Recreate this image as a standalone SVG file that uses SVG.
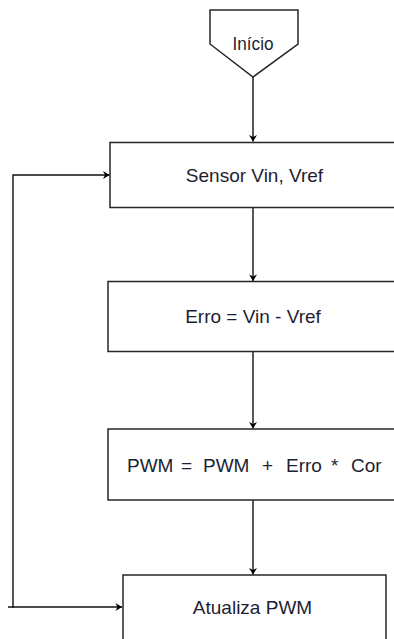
<svg xmlns="http://www.w3.org/2000/svg" width="394" height="639" viewBox="0 0 394 639">
  <style>
    .box { fill: #ffffff; stroke: #262626; stroke-width: 1.5; }
    .lbl { font-family: "Liberation Sans", Arial, sans-serif; font-size: 19px; fill: #1e1e32; text-anchor: middle; }
    .wire { fill: none; stroke: #111111; stroke-width: 1.4; }
  </style>
  <defs>
    <marker id="arrow" markerUnits="userSpaceOnUse" markerWidth="10" markerHeight="10" viewBox="-7 -5 10 10" refX="0" refY="0" orient="auto">
      <path d="M-6.5,-4 L0,0 L-6.5,4 L-4.5,0 Z" fill="#000000"/>
    </marker>
  </defs>
  <rect width="394" height="639" fill="#ffffff"/>

  <g id="connectors">
    <path class="wire" d="M253,77 V141.5" marker-end="url(#arrow)"/>
    <path class="wire" d="M253,207 V281" marker-end="url(#arrow)"/>
    <path class="wire" d="M253,352 V428.5" marker-end="url(#arrow)"/>
    <path class="wire" d="M253,500 V574.5" marker-end="url(#arrow)"/>
    <path class="wire" d="M13,608 V175 H109.5" marker-end="url(#arrow)"/>
    <path class="wire" d="M8,607 H122" marker-end="url(#arrow)"/>
  </g>

  <g id="inicio">
    <polygon class="box" points="210,10 298,10 298,44 253,77 210,44"/>
    <text class="lbl" x="253" y="50" textLength="41" lengthAdjust="spacingAndGlyphs">Início</text>
  </g>

  <g id="sensor">
    <rect class="box" x="110" y="142.5" width="292" height="65"/>
    <text class="lbl" x="254.5" y="181.5">Sensor Vin, Vref</text>
  </g>

  <g id="erro">
    <rect class="box" x="108" y="281.5" width="294" height="70"/>
    <text class="lbl" x="253" y="322.5">Erro = Vin - Vref</text>
  </g>

  <g id="pwm">
    <rect class="box" x="108" y="429" width="294" height="71"/>
    <text class="lbl" y="471.5" style="text-anchor:start"><tspan x="127">PWM</tspan><tspan x="181">=</tspan><tspan x="203">PWM</tspan><tspan x="262">+</tspan><tspan x="286">Erro</tspan><tspan x="331">*</tspan><tspan x="351">Cor</tspan></text>
  </g>

  <g id="atualiza">
    <rect class="box" x="123" y="575" width="263" height="80"/>
    <text class="lbl" x="252.5" y="613.5">Atualiza PWM</text>
  </g>
</svg>
